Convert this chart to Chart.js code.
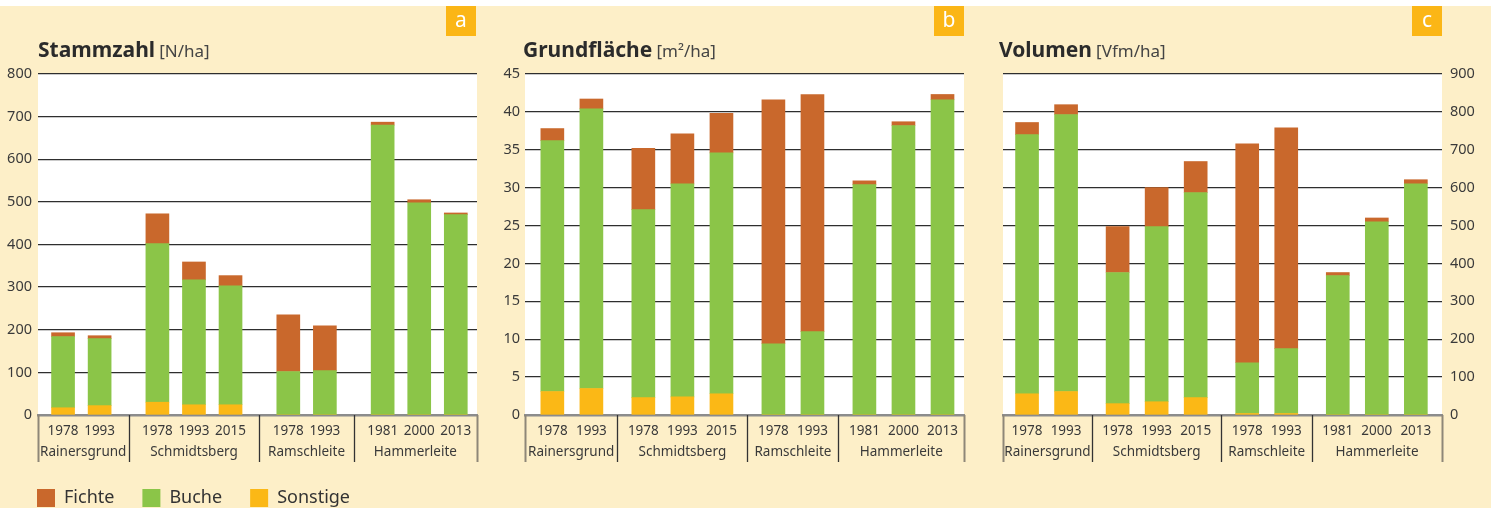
<!DOCTYPE html>
<html><head><meta charset="utf-8">
<script src="https://cdn.jsdelivr.net/npm/chart.js@4.4.0/dist/chart.umd.min.js"></script>
<style>
html,body{margin:0;padding:0;width:1491px;height:508px;overflow:hidden;background:#fff;font-family:'Noto Sans',sans-serif;}
#bg{position:absolute;left:0;top:6px;width:1491px;height:502px;background:#FDEFC8;}
canvas{position:absolute;top:0;}
.title{position:absolute;top:37px;white-space:nowrap;color:#2b2b2b;line-height:24px;}
.title b{font-size:21px;font-weight:700;}
.title span{font-size:17px;color:#444;font-weight:400;}
.badge{position:absolute;top:6px;width:30px;height:30px;background:#FBB616;color:#fff;font-size:21px;line-height:27px;text-align:center;}
</style></head>
<body>
<div id="bg"></div>
<canvas id="ca" width="480" height="517" style="left:0"></canvas>
<canvas id="cb" width="500" height="508" style="left:480px"></canvas>
<canvas id="cc" width="511" height="508" style="left:980px"></canvas>
<div class="title" style="left:38px"><b>Stammzahl</b> <span>[N/ha]</span></div>
<div class="title" style="left:523px"><b>Grundfläche</b> <span>[m²/ha]</span></div>
<div class="title" style="left:999px"><b>Volumen</b> <span>[Vfm/ha]</span></div>
<div class="badge" style="left:446px">a</div>
<div class="badge" style="left:934px">b</div>
<div class="badge" style="left:1412px">c</div>
<script>
// ---- data ----
const years = ['1978','1993','1978','1993','2015','1978','1993','1981','2000','2013'];
const sites = ['Rainersgrund','Rainersgrund','Schmidtsberg','Schmidtsberg','Schmidtsberg','Ramschleite','Ramschleite','Hammerleite','Hammerleite','Hammerleite'];
const species = ['Fichte','Buche','Sonstige'];

const stammzahlFichte   = [9, 7, 70, 42, 24, 133, 105, 7, 7, 4];
const stammzahlBuche    = [167, 157, 372, 293, 279, 102, 104, 680, 498, 470];
const stammzahlSonstige = [17, 22, 30, 24, 24, 0, 0, 0, 0, 0];

const grundFichte   = [1.6, 1.3, 8.1, 6.6, 5.2, 32.2, 31.3, 0.5, 0.5, 0.7];
const grundBuche    = [33.1, 36.9, 24.8, 28.1, 31.8, 9.4, 11.0, 30.4, 38.2, 41.6];
const grundSonstige = [3.1, 3.5, 2.3, 2.4, 2.8, 0, 0, 0, 0, 0];

const volFichte   = [32, 26, 121, 103, 82, 578, 583, 8, 10, 11];
const volBuche    = [684, 731, 346, 462, 541, 134, 171, 368, 510, 610];
const volSonstige = [56, 62, 30, 35, 46, 4, 4, 0, 0, 0];

// ---- styles ----
const COL = {Fichte:'#C9682C', Buche:'#8BC548', Sonstige:'#FBB816'};
const FONT = 'Noto Sans';
const TXT = '#3a3a3a';

// slot position of each bar derived from its category order and group membership
function slotPositions(gap){
  let g = -1;
  return sites.map((s,i)=>{ if(i===0 || s!==sites[i-1]) g++; return i + g*gap; });
}

const panelPlugin = {
  id:'panel',
  afterLayout(chart){
    const sh = chart.options.plugins.panel.legendShift || 0;
    if (sh && chart.legend) { chart.legend.left += sh; }
  },
  beforeDraw(chart){
    const {ctx, chartArea:a} = chart;
    ctx.save(); ctx.fillStyle='#fff';
    ctx.fillRect(a.left, a.top, a.right-a.left, a.bottom-a.top);
    ctx.restore();
  },
  afterDraw(chart){
    const {ctx, chartArea:a} = chart;
    const xs = chart.scales.x;
    const pos = chart.options.plugins.panel.pos;
    const bounds = [a.left]; const names = [];
    for(let i=1;i<=sites.length;i++){
      if(i===sites.length || sites[i]!==sites[i-1]){
        names.push(sites[i-1]);
        bounds.push(i<sites.length ? xs.getPixelForValue((pos[i-1]+pos[i])/2) : a.right);
      }
    }
    ctx.save();
    bounds.forEach((b,k)=>{
      const edge = (k===0 || k===bounds.length-1);
      ctx.strokeStyle = edge ? '#8e8778' : '#333';
      ctx.lineWidth = edge ? 2 : 1.3;
      ctx.beginPath();
      ctx.moveTo(Math.round(b)+0.5, a.bottom);
      ctx.lineTo(Math.round(b)+0.5, a.bottom+47);
      ctx.stroke();
    });
    ctx.fillStyle = TXT;
    ctx.font = '13.5px "'+FONT+'"';
    ctx.textAlign='center'; ctx.textBaseline='middle';
    names.forEach((n,k)=>{
      ctx.fillText(n, (bounds[k]+bounds[k+1])/2, a.bottom+37);
    });
    ctx.restore();
  }
};

function makeChart(id, c){
  const pos = slotPositions(c.gap);
  const mk = (name, arr) => ({
    label:name,
    data: arr.map((v,i)=>({x:pos[i], y:v})),
    backgroundColor: COL[name], borderWidth:0, barThickness:23
  });
  return new Chart(document.getElementById(id), {
    type:'bar',
    data:{ datasets:[ mk('Sonstige', c.s), mk('Buche', c.b), mk('Fichte', c.f) ] },
    plugins:[panelPlugin],
    options:{
      responsive:false, animation:false, devicePixelRatio:1,
      layout:{ padding:c.padding },
      plugins:{
        panel:{pos, legendShift:c.legendShift},
        tooltip:{enabled:false},
        legend:{
          display:!!c.legend, position:'bottom', align:'start', reverse:true,
          labels:{ boxWidth:18, boxHeight:18, padding:28, color:'#333',
                   font:{family:FONT, size:18} }
        }
      },
      scales:{
        x:{
          type:'linear', offset:false, stacked:true, min:pos[0]-c.padL, max:pos[pos.length-1]+c.padR,
          grid:{display:false, drawTicks:false, offset:false},
          border:{display:true, color:'#8c8c8c', width:2.5},
          afterBuildTicks: s => { s.ticks = pos.map(v=>({value:v})); },
          afterFit: s => { s.height = c.xHeight; },
          ticks:{ autoSkip:false, maxRotation:0, padding:8, color:TXT,
                  font:{family:FONT, size:13.5},
                  callback:(v,i)=>years[i] }
        },
        y:{
          stacked:true, position:c.yPos, min:0, max:c.yMax,
          grid:{ drawTicks:false, lineWidth:1.3,
                 color: ctx => ctx.tick && ctx.tick.value===0 ? 'rgba(0,0,0,0)' : '#2e2e2e' },
          border:{display:false},
          afterFit: s => { s.width = c.yWidth; },
          ticks:{ stepSize:c.yStep, padding:c.tickPad, color:TXT, font:{family:FONT, size:14.5} }
        }
      }
    }
  });
}

makeChart('ca', {f:stammzahlFichte, b:stammzahlBuche, s:stammzahlSonstige,
  yMax:800, yStep:100, yPos:'left', gap:0.58, padL:0.685, padR:0.58,
  padding:{left:0, right:3, top:74, bottom:0}, yWidth:38, xHeight:46, tickPad:6,
  legend:true, legendShift:9});
makeChart('cb', {f:grundFichte, b:grundBuche, s:grundSonstige,
  yMax:45, yStep:5, yPos:'left', gap:0.33, padL:0.70, padR:0.55,
  padding:{left:0, right:16, top:74, bottom:0}, yWidth:45, xHeight:93, tickPad:5});
makeChart('cc', {f:volFichte, b:volBuche, s:volSonstige,
  yMax:900, yStep:100, yPos:'right', gap:0.32, padL:0.616, padR:0.67,
  padding:{left:23, right:0, top:74, bottom:0}, yWidth:49, xHeight:93, tickPad:8});
</script>
</body></html>
